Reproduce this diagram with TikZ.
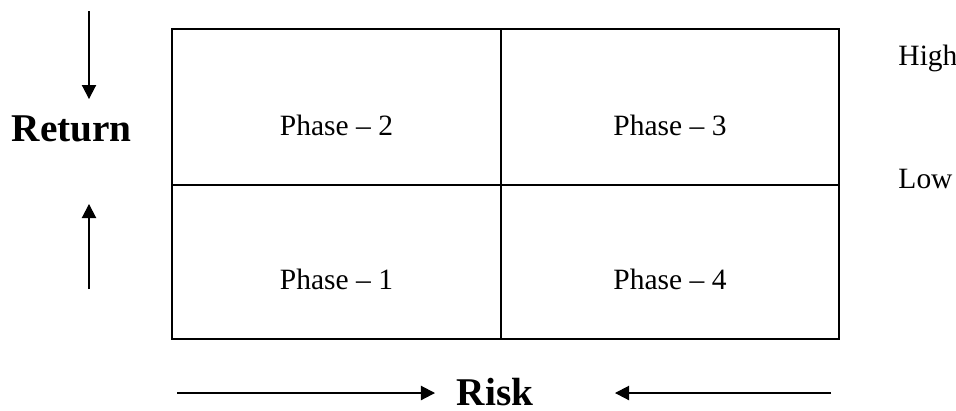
\documentclass[tikz,border=0pt]{standalone}
\usepackage{fontspec}
\setmainfont{Liberation Serif}
\usetikzlibrary{arrows.meta}

\begin{document}
\begin{tikzpicture}[x=0.407pt,y=-0.407pt,
  phlabel/.style={font=\fontsize{12}{14}\selectfont,anchor=base,inner sep=0pt},
  lvlabel/.style={font=\fontsize{12}{14}\selectfont,anchor=base west,inner sep=0pt},
  axlabel/.style={font=\fontsize{16}{19}\selectfont\bfseries,anchor=base,inner sep=0pt},
  cellline/.style={line width=0.75pt},
  axarrow/.style={-{Triangle[length=5.7pt,width=5.8pt]},line width=0.5pt}]
  \useasboundingbox (0,0) rectangle (956,410);

  % ---- quadrant box ----
  \draw[cellline] (172,29) rectangle (839,339);
  \draw[cellline] (501,29) -- (501,339) (172,185) -- (839,185);

  % phases
  \node[phlabel] (ph2) at (336.5,135) {Phase -- 2};
  \node[phlabel] (ph3) at (670,135) {Phase -- 3};
  \node[phlabel] (ph1) at (336.5,289) {Phase -- 1};
  \node[phlabel] (ph4) at (670,289) {Phase -- 4};

  % levels on the right
  \node[lvlabel] (high) at (898,65.7) {High};
  \node[lvlabel] (low) at (898,188) {Low};

  % ---- return axis ----
  \node[axlabel] (return) at (71.7,141.7) {Return};
  \coordinate (rtail1) at (89,11);
  \coordinate (rtip1) at (89,99);
  \coordinate (rtail2) at (89,289);
  \coordinate (rtip2) at (89,204);
  \draw[axarrow] (rtail1) -- (rtip1);
  \draw[axarrow] (rtail2) -- (rtip2);

  % ---- risk axis ----
  \node[axlabel] (risk) at (495,405) {Risk};
  \coordinate (ktail1) at (177,393);
  \coordinate (ktip1) at (435,393);
  \coordinate (ktail2) at (831,393);
  \coordinate (ktip2) at (615,393);
  \draw[axarrow] (ktail1) -- (ktip1);
  \draw[axarrow] (ktail2) -- (ktip2);
\end{tikzpicture}
\end{document}
